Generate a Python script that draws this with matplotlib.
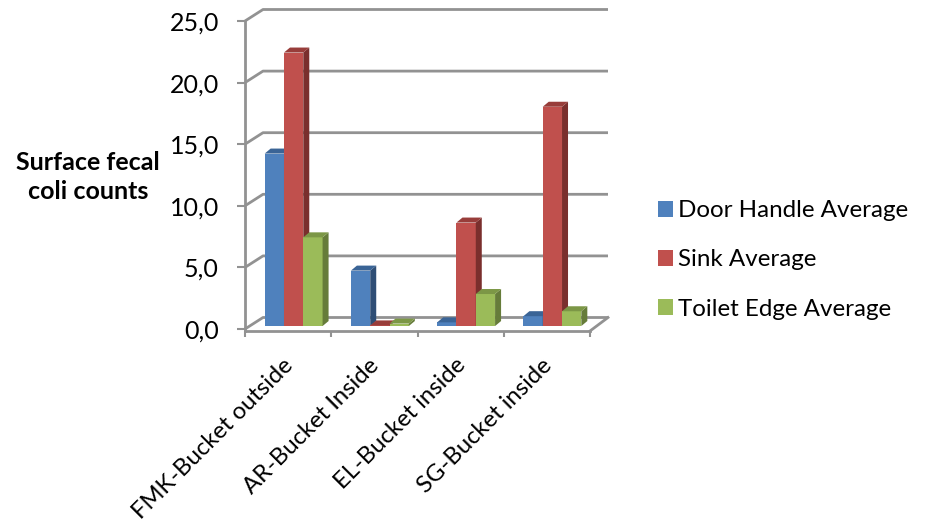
import numpy as np
import matplotlib
matplotlib.use('Agg')
import matplotlib.pyplot as plt
from matplotlib.patches import Patch
from matplotlib.transforms import ScaledTranslation

plt.rcParams['font.family'] = ['Lato', 'DejaVu Sans']

# Surface counts per sampling site
categories = ['FMK-Bucket outside', 'AR-Bucket Inside', 'EL-Bucket inside', 'SG-Bucket inside']
door_handle = [14.0, 4.5, 0.3, 0.8]
sink = [22.2, 0.05, 8.4, 17.8]
toilet_edge = [7.2, 0.2, 2.6, 1.2]
y_ticks = [0, 5, 10, 15, 20, 25]
y_labels = ['0,0', '5,0', '10,0', '15,0', '20,0', '25,0']
series_names = ['Door Handle Average', 'Sink Average', 'Toilet Edge Average']

front = ['#4F81BD', '#C0504D', '#9BBB59']
side = ['#2F4E75', '#7A2F2D', '#667C3A']
top = ['#3A6496', '#983D3A', '#7C9746']
grid_col = '#929292'

W, H = 926, 521
fig = plt.figure(figsize=(W / 100, H / 100), dpi=100)
ax = fig.add_axes([245 / W, 1 - 331 / H, 345 / W, 310 / H])
ax.set_xlim(-0.5, 3.5)
ax.set_ylim(-2 / 12.32, 25)

# depth of the fake 3D box and of each bar, in data units
wall_dx, wall_dy = 18 / 86.25, 11.5 / 12.32
bar_dx, bar_dy = 6 / 86.25, 5 / 12.32
base = 0.24
bar_w = 19.3 / 86.25
group_shift = 5.5 / 86.25

# back wall gridlines
x0, x1 = -0.5, 3.5
for v in y_ticks:
    ax.plot([x0, x0 + wall_dx, x1 + wall_dx], [v, v + wall_dy, v + wall_dy],
            color=grid_col, lw=2.0, clip_on=False, zorder=1, solid_capstyle='butt')

# floor right edge
ymin = ax.get_ylim()[0]
ax.plot([x1, x1 + wall_dx], [ymin, wall_dy], color=grid_col, lw=2.0, clip_on=False, zorder=1)


def draw_bar(x, v, i, z):
    ax.bar(x, v, bar_w, bottom=base, color=front[i], align='edge', zorder=z)
    r = x + bar_w
    t = base + v
    ax.fill([r, r + bar_dx, r + bar_dx, r], [base, base + bar_dy, t + bar_dy, t],
            color=side[i], lw=0, zorder=z, clip_on=False)
    ax.fill([x, x + bar_dx, r + bar_dx, r], [t, t + bar_dy, t + bar_dy, t],
            color=top[i], lw=0, zorder=z, clip_on=False)


for c in range(len(categories)):
    vals = [door_handle[c], sink[c], toilet_edge[c]]
    for i in range(3):
        # each series covers the shaded side of the one before it
        draw_bar(c - 1.5 * bar_w + group_shift + i * bar_w, vals[i], i, 3 + i)

# axes
for s in ['top', 'right']:
    ax.spines[s].set_visible(False)
for s in ['left', 'bottom']:
    ax.spines[s].set_color(grid_col)
    ax.spines[s].set_linewidth(2.0)
    ax.spines[s].set_zorder(2)

ax.set_yticks(y_ticks)
ax.set_yticklabels(y_labels, fontsize=18, color='black')
ax.tick_params(axis='y', length=5.8, width=1.5, color=grid_col, pad=13)
ax.set_xticks(np.arange(len(categories)))
ax.set_xticklabels(categories, fontsize=17.2, rotation=45, ha='right', rotation_mode='anchor')
ax.tick_params(axis='x', which='major', length=0, pad=17)
ax.set_xticks(np.arange(-0.5, 4), minor=True)
ax.tick_params(axis='x', which='minor', length=4.5, width=1.5, color=grid_col)

# nudge the slanted labels left of their category centre
nudge = ScaledTranslation(-6 / 100, 0, fig.dpi_scale_trans)
for lab in ax.get_xticklabels():
    lab.set_transform(lab.get_transform() + nudge)

fig.text(88 / W, 1 - 177 / H, 'Surface fecal\ncoli counts', fontsize=18, fontweight='bold',
         ha='center', va='center', linespacing=1.32)

handles = [Patch(facecolor=front[i], label=series_names[i]) for i in range(3)]
fig.legend(handles=handles, loc='center left', bbox_to_anchor=(656 / W, 1 - 260 / H), frameon=False,
           fontsize=17.4, handlelength=0.62, handleheight=0.62, handletextpad=0.2, labelspacing=1.16,
           borderpad=0.1, borderaxespad=0)

fig.savefig('out.png', dpi=100)
